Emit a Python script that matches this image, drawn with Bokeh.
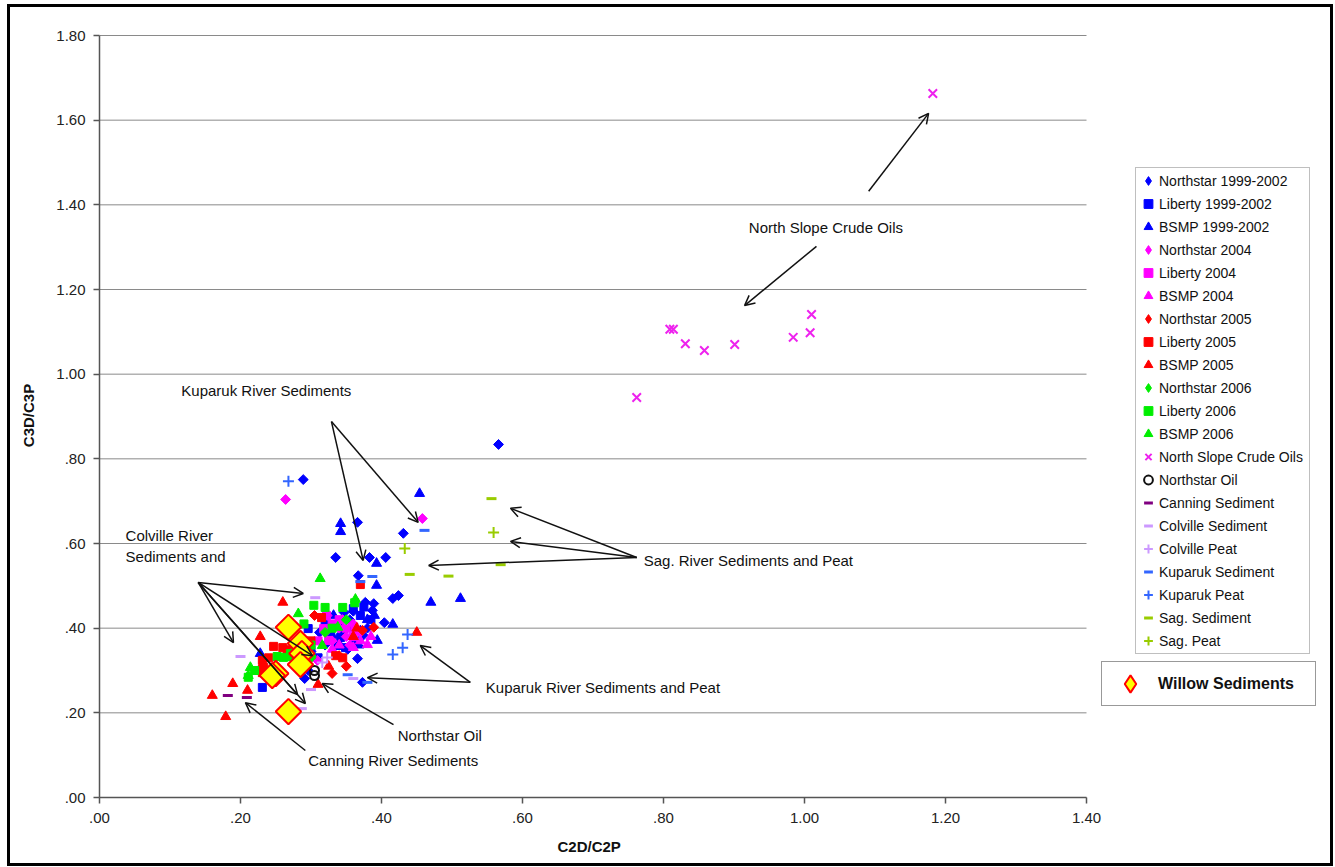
import numpy as np
from bokeh.plotting import figure
from bokeh.models import (Legend, LegendItem, Label, Arrow, OpenHead, Range1d, Title,
                          FixedTicker, CustomJSTickFormatter)
from bokeh.embed import file_html
from bokeh.resources import INLINE

# ---- sample ratios (C2D/C2P on x, C3D/C3P on y) ----
ns_9902_x = [0.566, 0.289, 0.366, 0.431, 0.335, 0.383, 0.406, 0.367, 0.416, 0.424, 0.377, 0.389, 0.387, 0.404, 0.347,
             0.370, 0.374, 0.366, 0.373, 0.291, 0.296, 0.355, 0.340, 0.330, 0.320, 0.352, 0.380, 0.312, 0.345, 0.360, 0.300]
ns_9902_y = [0.834, 0.751, 0.650, 0.624, 0.567, 0.567, 0.567, 0.524, 0.470, 0.477, 0.461, 0.458, 0.442, 0.413, 0.437,
             0.395, 0.383, 0.328, 0.272, 0.281, 0.300, 0.420, 0.410, 0.380, 0.360, 0.350, 0.400, 0.390, 0.390, 0.440, 0.345]
lib_9902_x = [0.231, 0.360, 0.296, 0.328, 0.342, 0.338, 0.349, 0.320, 0.370, 0.362, 0.300, 0.385, 0.375, 0.310]
lib_9902_y = [0.260, 0.446, 0.399, 0.387, 0.378, 0.359, 0.354, 0.410, 0.430, 0.370, 0.350, 0.420, 0.450, 0.330]
bsmp_9902_x = [0.454, 0.342, 0.342, 0.393, 0.393, 0.470, 0.512, 0.416, 0.394, 0.228, 0.380, 0.368, 0.332, 0.358, 0.390]
bsmp_9902_y = [0.718, 0.647, 0.628, 0.553, 0.501, 0.461, 0.470, 0.409, 0.371, 0.340, 0.420, 0.360, 0.430, 0.400, 0.430]

ns_2004_x = [0.264, 0.458, 0.323, 0.309, 0.340, 0.350, 0.330, 0.360, 0.320, 0.345, 0.370, 0.355]
ns_2004_y = [0.704, 0.659, 0.430, 0.324, 0.400, 0.380, 0.370, 0.410, 0.390, 0.420, 0.390, 0.360]
lib_2004_x = [0.318, 0.325, 0.363, 0.340, 0.350, 0.330, 0.310, 0.360, 0.322]
lib_2004_y = [0.399, 0.371, 0.395, 0.420, 0.400, 0.410, 0.370, 0.380, 0.430]
bsmp_2004_x = [0.360, 0.380, 0.340, 0.370, 0.385, 0.330]
bsmp_2004_y = [0.354, 0.361, 0.360, 0.370, 0.380, 0.350]

ns_2005_x = [0.389, 0.330, 0.340, 0.373, 0.350, 0.292, 0.305]
ns_2005_y = [0.402, 0.293, 0.335, 0.395, 0.310, 0.340, 0.430]
lib_2005_x = [0.247, 0.260, 0.266, 0.231, 0.233, 0.231, 0.370, 0.335, 0.345, 0.280, 0.240, 0.300, 0.315]
lib_2005_y = [0.357, 0.354, 0.349, 0.324, 0.307, 0.295, 0.503, 0.335, 0.330, 0.330, 0.330, 0.370, 0.425]
bsmp_2005_x = [0.260, 0.228, 0.450, 0.360, 0.189, 0.160, 0.210, 0.179, 0.310, 0.365, 0.325, 0.226]
bsmp_2005_y = [0.461, 0.380, 0.390, 0.380, 0.269, 0.241, 0.253, 0.191, 0.267, 0.400, 0.310, 0.300]

ns_2006_x = [0.290, 0.300, 0.320, 0.350, 0.275]
ns_2006_y = [0.360, 0.330, 0.390, 0.420, 0.345]
lib_2006_x = [0.304, 0.320, 0.345, 0.252, 0.261, 0.271, 0.211, 0.220, 0.290, 0.300, 0.330, 0.362]
lib_2006_y = [0.454, 0.449, 0.449, 0.333, 0.331, 0.340, 0.284, 0.300, 0.410, 0.360, 0.400, 0.460]
bsmp_2006_x = [0.313, 0.282, 0.363, 0.338, 0.316, 0.214, 0.211, 0.300, 0.270]
bsmp_2006_y = [0.517, 0.434, 0.468, 0.402, 0.359, 0.307, 0.288, 0.340, 0.330]

crude_x = [1.182, 0.809, 0.814, 0.831, 0.858, 0.901, 0.984, 1.008, 1.010, 0.762]
crude_y = [1.663, 1.106, 1.106, 1.072, 1.056, 1.070, 1.087, 1.098, 1.141, 0.945]
ns_oil_x = [0.305, 0.305]
ns_oil_y = [0.300, 0.288]

canning_sed_x = [0.182, 0.209]
canning_sed_y = [0.241, 0.236]
colville_sed_x = [0.306, 0.200, 0.300, 0.287, 0.360]
colville_sed_y = [0.472, 0.333, 0.255, 0.210, 0.281]
colville_peat_x = [0.323, 0.316]
colville_peat_y = [0.331, 0.319]
kuparuk_sed_x = [0.461, 0.387, 0.352, 0.380, 0.370]
kuparuk_sed_y = [0.631, 0.522, 0.290, 0.272, 0.510]
kuparuk_peat_x = [0.268, 0.437, 0.430, 0.416]
kuparuk_peat_y = [0.747, 0.385, 0.354, 0.338]
sag_sed_x = [0.556, 0.440, 0.495, 0.569]
sag_sed_y = [0.706, 0.527, 0.523, 0.550]
sag_peat_x = [0.559, 0.433]
sag_peat_y = [0.626, 0.588]

willow_x = [0.268, 0.285, 0.287, 0.285, 0.250, 0.245, 0.268]
willow_y = [0.402, 0.364, 0.340, 0.314, 0.293, 0.288, 0.203]

axis_ticks_x = [0.0, 0.2, 0.4, 0.6, 0.8, 1.0, 1.2, 1.4]
axis_ticks_y = [0.0, 0.2, 0.4, 0.6, 0.8, 1.0, 1.2, 1.4, 1.6, 1.8]
X_MAX, Y_MAX = 1.4, 1.8

BLUE, MAG, RED, GRN = "#0000FF", "#FF00FF", "#FF0000", "#00EE00"
FONT = "Liberation Sans"
NO_POINT = np.array([np.nan])   # legend-key renderers carry no visible point

# The plotting frame runs on to the right edge of the page so that the legend
# boxes can sit beside the axes; the x axis itself stops at 1.4.
p = figure(width=1335, height=867,
           x_range=Range1d(0, X_MAX * 1236 / 987), y_range=Range1d(0, Y_MAX * 764 / 762),
           min_border_left=99, min_border_right=0, min_border_top=33, min_border_bottom=70,
           output_backend="svg", toolbar_location=None)
p.outline_line_color = None
p.background_fill_color = "white"
p.border_fill_color = "white"
p.xgrid.visible = False
p.ygrid.visible = False

# outer black frame drawn over the page
p.stylesheets = [":host { position: relative; }"
                 ":host::after { content: ''; position: absolute; left: 7px; top: 4px; right: 2px; bottom: 1px;"
                 " border: 3.5px solid #000; pointer-events: none; z-index: 50; }"]

# horizontal grid lines between 0 and 1.4
p.segment(x0=[0.0] * len(axis_ticks_y), y0=axis_ticks_y, x1=[X_MAX] * len(axis_ticks_y), y1=axis_ticks_y,
          line_color="#8a8a8a", line_width=1)

fmt = CustomJSTickFormatter(code="return tick.toFixed(2).replace(/^0\\./, '.');")
for ax, ticks, bnd in ((p.xaxis[0], axis_ticks_x, (0, X_MAX)), (p.yaxis[0], axis_ticks_y, (0, Y_MAX))):
    ax.ticker = FixedTicker(ticks=ticks)
    ax.formatter = fmt
    ax.bounds = bnd
    ax.axis_line_color = "#555555"
    ax.axis_line_width = 1.5
    ax.major_tick_line_color = "#555555"
    ax.major_tick_line_width = 1.5
    ax.major_tick_out = 6
    ax.major_tick_in = 0
    ax.minor_tick_line_color = None
    ax.major_label_text_font = FONT
    ax.major_label_text_font_size = "15px"
    ax.major_label_text_color = "#222222"
    ax.axis_label_text_font = FONT
    ax.axis_label_text_font_size = "15px"
    ax.axis_label_text_font_style = "bold"
    ax.axis_label_text_color = "#111111"
p.yaxis.axis_label = "C3D/C3P"
p.xaxis.major_label_standoff = 9
p.yaxis.major_label_standoff = 8
p.yaxis.axis_label_standoff = 16

# x-axis title, centred under the 0 - 1.4 span
p.add_layout(Title(text="C2D/C2P", align="left", offset=458, standoff=20,
                   text_font=FONT, text_font_size="15px", text_font_style="bold",
                   text_color="#111111"), "below")

ROT = np.pi / 4
# (label, x, y, style, legend-key marker when it differs from the drawn one)
series = [
    ("Northstar 1999-2002", ns_9902_x, ns_9902_y, dict(marker="square", angle=ROT, size=7, color=BLUE), "diamond"),
    ("Liberty 1999-2002", lib_9902_x, lib_9902_y, dict(marker="square", size=8, color=BLUE), None),
    ("BSMP 1999-2002", bsmp_9902_x, bsmp_9902_y, dict(marker="triangle", size=10, color=BLUE), None),
    ("Northstar 2004", ns_2004_x, ns_2004_y, dict(marker="square", angle=ROT, size=7, color=MAG), "diamond"),
    ("Liberty 2004", lib_2004_x, lib_2004_y, dict(marker="square", size=8, color=MAG), None),
    ("BSMP 2004", bsmp_2004_x, bsmp_2004_y, dict(marker="triangle", size=10, color=MAG), None),
    ("Northstar 2005", ns_2005_x, ns_2005_y, dict(marker="square", angle=ROT, size=7, color=RED), "diamond"),
    ("Liberty 2005", lib_2005_x, lib_2005_y, dict(marker="square", size=8, color=RED), None),
    ("BSMP 2005", bsmp_2005_x, bsmp_2005_y, dict(marker="triangle", size=10, color=RED), None),
    ("Northstar 2006", ns_2006_x, ns_2006_y, dict(marker="square", angle=ROT, size=7, color=GRN), "diamond"),
    ("Liberty 2006", lib_2006_x, lib_2006_y, dict(marker="square", size=8, color=GRN), None),
    ("BSMP 2006", bsmp_2006_x, bsmp_2006_y, dict(marker="triangle", size=10, color=GRN), None),
    ("North Slope Crude Oils", crude_x, crude_y, dict(marker="x", size=12, line_width=2, color="#EE22EE"), None),
    ("Northstar Oil", ns_oil_x, ns_oil_y, dict(marker="circle", size=9, line_width=2, line_color="#111111",
                                               fill_color=None), None),
    ("Canning Sediment", canning_sed_x, canning_sed_y,
     dict(marker="dash", size=10, line_width=3, color="#800080"), None),
    ("Colville Sediment", colville_sed_x, colville_sed_y,
     dict(marker="dash", size=10, line_width=3, color="#CC99FF"), None),
    ("Colville Peat", colville_peat_x, colville_peat_y,
     dict(marker="cross", size=11, line_width=2, color="#CC99FF"), None),
    ("Kuparuk Sediment", kuparuk_sed_x, kuparuk_sed_y,
     dict(marker="dash", size=10, line_width=3, color="#3366FF"), None),
    ("Kuparuk Peat", kuparuk_peat_x, kuparuk_peat_y,
     dict(marker="cross", size=11, line_width=2, color="#3366FF"), None),
    ("Sag. Sediment", sag_sed_x, sag_sed_y, dict(marker="dash", size=10, line_width=3, color="#99CC00"), None),
    ("Sag. Peat", sag_peat_x, sag_peat_y, dict(marker="cross", size=11, line_width=2, color="#99CC00"), None),
]

items = []
for name, xs, ys, style, key_marker in series:
    r = p.scatter(xs, ys, **style)
    if key_marker is not None:
        # legend keys are drawn unrotated, so diamonds get a diamond-shaped key
        key_style = {k: v for k, v in style.items() if k not in ("marker", "angle")}
        r = p.scatter(NO_POINT, NO_POINT, marker=key_marker, **key_style)
    items.append(LegendItem(label=name, renderers=[r]))

willow = p.scatter(willow_x, willow_y, marker="square", angle=ROT, size=18,
                   fill_color="#FFFF00", line_color="#FF0000", line_width=2)
willow_key = p.scatter(NO_POINT, NO_POINT, marker="diamond",
                       fill_color="#FFFF00", line_color="#FF0000", line_width=2)

legend = Legend(items=items, location=(1036, 143), orientation="vertical",
                label_text_font=FONT, label_text_font_size="14px", label_text_color="#111111",
                label_height=23, glyph_height=23, glyph_width=22, label_standoff=0, label_width=149,
                spacing=0, padding=1, margin=0,
                border_line_color="#808080", border_line_width=1, background_fill_alpha=1)
p.add_layout(legend, "center")

legend_w = Legend(items=[LegendItem(label="Willow Sediments", renderers=[willow_key])], location=(1002, 91),
                  label_text_font=FONT, label_text_font_size="16px", label_text_font_style="bold",
                  label_text_color="#111111", label_height=43, glyph_height=43, glyph_width=56,
                  label_standoff=0, label_width=157, spacing=0, padding=0, margin=0,
                  border_line_color="#333333", border_line_width=1.5, background_fill_alpha=1)
p.add_layout(legend_w, "center")

# ---- callouts ----
notes = [
    ("North Slope Crude Oils", 0.921, 1.347),
    ("Kuparuk River Sediments", 0.116, 0.961),
    ("Colville River", 0.037, 0.620),
    ("Sediments and", 0.037, 0.569),
    ("Sag. River Sediments and Peat", 0.772, 0.560),
    ("Kuparuk River Sediments and Peat", 0.548, 0.260),
    ("Northstar Oil", 0.423, 0.146),
    ("Canning River Sediments", 0.296, 0.087),
]
for txt, tx, ty in notes:
    p.add_layout(Label(x=tx, y=ty, text=txt, text_font=FONT, text_font_size="15px",
                       text_color="#111111", text_baseline="middle", text_align="left"))

pointers = [
    (1.091, 1.432, 1.176, 1.616),
    (1.017, 1.302, 0.915, 1.162),
    (0.329, 0.888, 0.374, 0.560),
    (0.329, 0.888, 0.452, 0.650),
    (0.140, 0.508, 0.289, 0.482),
    (0.140, 0.508, 0.190, 0.366),
    (0.140, 0.508, 0.302, 0.335),
    (0.140, 0.508, 0.281, 0.243),
    (0.140, 0.508, 0.292, 0.222),
    (0.762, 0.567, 0.583, 0.683),
    (0.762, 0.567, 0.583, 0.605),
    (0.762, 0.567, 0.467, 0.548),
    (0.526, 0.272, 0.455, 0.359),
    (0.526, 0.272, 0.380, 0.283),
    (0.417, 0.172, 0.316, 0.269),
    (0.292, 0.111, 0.207, 0.224),
]
for x0, y0, x1, y1 in pointers:
    p.add_layout(Arrow(end=OpenHead(size=10, line_width=1.5, line_color="#111111"),
                       x_start=x0, y_start=y0, x_end=x1, y_end=y1,
                       line_width=1.5, line_color="#111111"))

open("out.html", "w").write(file_html(p, INLINE))
